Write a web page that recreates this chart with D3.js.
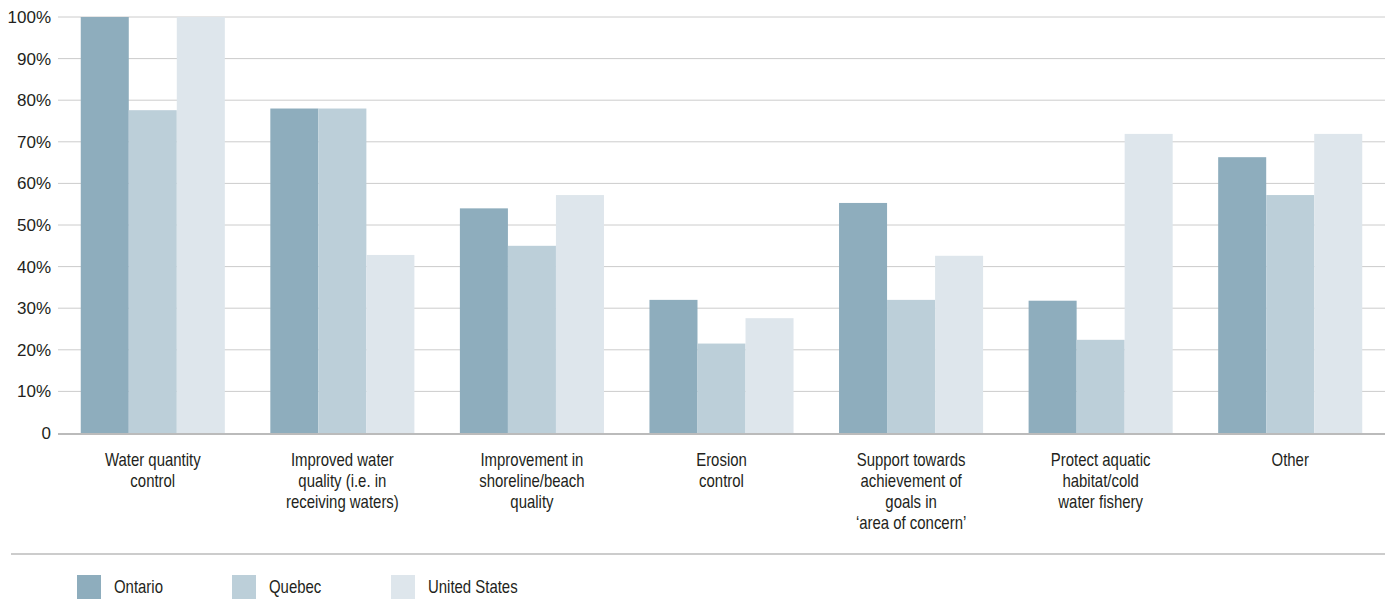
<!DOCTYPE html>
<html>
<head>
<meta charset="utf-8">
<script src="https://cdn.jsdelivr.net/npm/d3@7"></script>
<style>
  html, body { margin: 0; padding: 0; background: #fff; }
  svg text { font-family: "Liberation Sans", Arial, sans-serif; fill: #231f20; }
</style>
</head>
<body>
<svg id="chart" width="1390" height="613"></svg>
<script>
// Purposes of stormwater practices, share of respondents by region
const categories = [
  ["Water quantity", "control"],
  ["Improved water", "quality (i.e. in", "receiving waters)"],
  ["Improvement in", "shoreline/beach", "quality"],
  ["Erosion", "control"],
  ["Support towards", "achievement of", "goals in", "\u2018area of concern\u2019"],
  ["Protect aquatic", "habitat/cold", "water fishery"],
  ["Other"]
];
const seriesNames = ["Ontario", "Quebec", "United States"];
const ontario      = [100, 78, 54, 32, 55.3, 31.8, 66.3];
const quebec       = [77.6, 78, 45, 21.5, 32, 22.4, 57.2];
const unitedStates = [100, 42.8, 57.2, 27.6, 42.6, 71.9, 71.9];
const yTicks = [0, 10, 20, 30, 40, 50, 60, 70, 80, 90, 100];
const colors = ["#8eadbd", "#bccfd9", "#dee6ec"];

const seriesValues = [ontario, quebec, unitedStates];
const svg = d3.select("#chart");

const plot = { left: 58, right: 1385, top: 17, bottom: 433 };
const narrow = 0.83; // horizontal squeeze for a condensed look

const x0 = d3.scaleBand().domain(d3.range(categories.length)).range([plot.left, plot.right]).paddingInner(0.24).paddingOuter(0.12);
const x1 = d3.scaleBand().domain(d3.range(seriesNames.length)).range([0, x0.bandwidth()]);
const y = d3.scaleLinear().domain([0, 100]).range([plot.bottom, plot.top]);

// gridlines
svg.append("g")
  .selectAll("line")
  .data(yTicks.filter(t => t > 0))
  .join("line")
  .attr("x1", plot.left).attr("x2", plot.right)
  .attr("y1", d => y(d)).attr("y2", d => y(d))
  .attr("stroke", "#cccccc").attr("stroke-width", 1);

// y axis labels
const yAxis = d3.axisLeft(y).tickValues(yTicks).tickSize(0).tickPadding(7)
  .tickFormat(d => d === 0 ? "0" : d + "%");
const gy = svg.append("g").attr("transform", `translate(${plot.left},0)`).call(yAxis);
gy.select(".domain").remove();
gy.selectAll("text").style("font-size", "17px").attr("fill", "#231f20")
  .style("font-family", "'Liberation Sans', Arial, sans-serif");

// bars
const groups = svg.append("g").selectAll("g")
  .data(categories.map((c, i) => i))
  .join("g")
  .attr("transform", i => `translate(${x0(i)},0)`);

groups.selectAll("rect")
  .data(i => seriesValues.map((s, k) => ({ k, v: s[i] })))
  .join("rect")
  .attr("x", d => x1(d.k))
  .attr("width", x1.bandwidth())
  .attr("y", d => y(d.v))
  .attr("height", d => y(0) - y(d.v))
  .attr("fill", d => colors[d.k]);

// baseline
svg.append("line")
  .attr("x1", plot.left).attr("x2", plot.right)
  .attr("y1", y(0) + 1).attr("y2", y(0) + 1)
  .attr("stroke", "#bbbbbb").attr("stroke-width", 2);

// category labels
const xl = svg.append("g");
categories.forEach((lines, i) => {
  const cx = x0(i) + x0.bandwidth() / 2;
  const t = xl.append("text")
    .attr("transform", `translate(${cx},466) scale(${narrow},1)`)
    .attr("text-anchor", "middle")
    .style("font-size", "18px");
  lines.forEach((ln, j) => {
    t.append("tspan").attr("x", 0).attr("dy", j === 0 ? 0 : 21).text(ln);
  });
});

// separator
svg.append("line")
  .attr("x1", 11).attr("x2", plot.right)
  .attr("y1", 554).attr("y2", 554)
  .attr("stroke", "#cccccc").attr("stroke-width", 2);

// legend
const legendX = [77, 232, 391];
const lg = svg.append("g").selectAll("g")
  .data(seriesNames)
  .join("g")
  .attr("transform", (d, i) => `translate(${legendX[i]},575)`);
lg.append("rect").attr("width", 24).attr("height", 24).attr("fill", (d, i) => colors[i]);
lg.append("text")
  .attr("transform", `translate(37,18) scale(${narrow},1)`)
  .style("font-size", "18px")
  .text(d => d);
</script>
</body>
</html>
